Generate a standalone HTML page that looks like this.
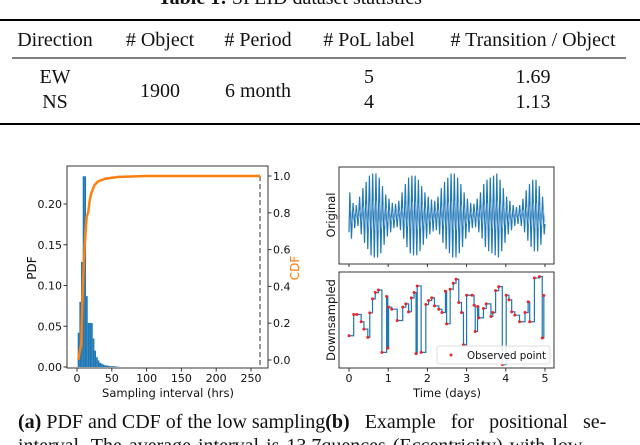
<!DOCTYPE html>
<html><head><meta charset="utf-8">
<style>
html,body{margin:0;padding:0;background:#fff;}
svg{display:block;}
.serif{font-family:"Liberation Serif",serif;fill:#111;}
.sans{font-family:"DejaVu Sans","Liberation Sans",sans-serif;fill:#111;}
</style></head>
<body>
<svg id="root" width="640" height="445" viewBox="0 0 640 445" xmlns="http://www.w3.org/2000/svg">
  <g>
    <text class="serif" x="290" y="4" font-size="20" text-anchor="middle"><tspan font-weight="bold">Table 1:</tspan> SPLID dataset statistics</text>
    <line x1="0" y1="20" x2="640" y2="20" stroke="#000" stroke-width="2"/>
    <g class="serif" font-size="20" text-anchor="middle">
      <text x="55" y="46">Direction</text>
      <text x="160" y="46"># Object</text>
      <text x="258" y="46"># Period</text>
      <text x="369" y="46"># PoL label</text>
      <text x="533" y="46"># Transition / Object</text>
    </g>
    <line x1="12" y1="58" x2="626" y2="58" stroke="#000" stroke-width="1"/>
    <g class="serif" font-size="20" text-anchor="middle">
      <text x="55" y="83">EW</text>
      <text x="55" y="108">NS</text>
      <text x="160" y="97">1900</text>
      <text x="258" y="97">6 month</text>
      <text x="369" y="83">5</text>
      <text x="369" y="108">4</text>
      <text x="533" y="83">1.69</text>
      <text x="533" y="108">1.13</text>
    </g>
    <line x1="0" y1="124" x2="640" y2="124" stroke="#000" stroke-width="2"/>
  </g>

  <g id="left"></g>
  <g id="right"></g>

  <g class="serif" font-size="20">
    <text x="18" y="428"><tspan font-weight="bold">(a)</tspan> PDF and CDF of the low sampling<tspan font-weight="bold">(b)</tspan><tspan word-spacing="10">  Example for positional se-</tspan></text>
    <text x="18" y="452" word-spacing="2">interval. The average interval is 13.7quences (Eccentricity) with low</text>
  </g>
</svg>
<script>
// ---- Left chart data ----
const binStarts = [1,3.4,5.8,8.2,10.6,13,15.4,17.8,20.2,22.6,25,27.4,29.8,32.2,34.6,37,39.4,41.8,44.2,46.6,49,51.4,53.8,56.2,58.6];
const binWidth = 2.4;
const pdfVals = [0.042,0.08,0.129,0.234,0.234,0.087,0.054,0.054,0.054,0.035,0.02,0.012,0.008,0.005,0.004,0.003,0.002,0.002,0.0015,0.001,0.001,0.001,0.0008,0.0005,0.0003];
const cdfX = [2,4,6,8,10,12,14,16,18,20,25,30,40,60,100,263];
const cdfY = [0.0,0.05,0.08,0.35,0.55,0.68,0.78,0.8,0.86,0.9,0.95,0.97,0.985,0.995,1.0,1.0];
const xTicksL = [0,50,100,150,200,250];
const pdfTicks = [0,0.05,0.10,0.15,0.20];
const pdfTickLabels = ["0.00","0.05","0.10","0.15","0.20"];
const cdfTicks = [0,0.2,0.4,0.6,0.8,1.0];
const cdfTickLabels = ["0.0","0.2","0.4","0.6","0.8","1.0"];
const maxInterval = [263];

// ---- Right chart data ----
const cycleAmps = [0.55,0.3,0.25,0.45,0.65,0.8,0.95,1.0,1.0,0.9,0.7,0.5,0.4,0.3,0.28,0.35,0.55,0.75,0.9,0.95,0.95,0.85,0.7,0.55,0.45,0.38,0.35,0.45,0.65,0.8,0.9,1.0,1.0,0.9,0.75,0.55,0.4,0.3,0.28,0.4,0.55,0.75,0.85,0.9,0.95,1.0,0.85,0.65,0.45,0.35,0.25,0.2,0.25,0.4,0.6,0.75,0.85,0.85,0.7,0.45];
const obsT = [0.00,0.12,0.20,0.31,0.38,0.48,0.53,0.60,0.67,0.75,0.84,0.96,0.99,1.01,1.09,1.23,1.37,1.45,1.52,1.59,1.66,1.71,1.74,1.84,1.96,2.03,2.11,2.18,2.29,2.37,2.46,2.49,2.58,2.66,2.73,2.80,2.87,2.92,3.00,3.14,3.19,3.22,3.28,3.31,3.43,3.50,3.62,3.67,3.74,3.82,3.91,4.01,4.08,4.15,4.23,4.35,4.49,4.57,4.61,4.73,4.86,4.93,4.97];
const obsV = [3.29,5.57,5.57,4.79,4.0,3.11,5.75,7.25,7.93,8.21,1.5,7.5,1.96,6.36,6.14,4.93,6.36,6.71,5.86,7.36,7.93,1.36,8.64,1.5,6.64,7.07,7.36,6.5,6.14,5.79,8.07,4.57,8.29,8.93,9.36,6.86,5.79,2.32,7.64,7.64,6.57,3.75,6.43,5.21,6.21,6.71,5.36,5.79,8.14,8.57,0.18,7.64,7.14,5.86,5.5,4.79,5.79,6.93,4.79,9.5,9.64,3.04,7.61];
const xTicksR = [0,1,2,3,4,5];

const NS = "http://www.w3.org/2000/svg";
function mk(parent, tag, attrs, text){
  const e = document.createElementNS(NS, tag);
  for (const k in attrs) e.setAttribute(k, attrs[k]);
  if (text !== undefined) e.textContent = text;
  parent.appendChild(e);
  return e;
}
const BLUE = "#1f77b4", ORANGE = "#ff7f0e";
const TF = 11, AF = 11.5;

// ===== Left chart =====
(function(){
  const g = document.getElementById('left');
  const L = 67, R = 268, T = 166, B = 368;
  const xS = v => 77 + v * (251 - 77) / 250;
  const yP = v => 367 - v * (163 / 0.2);
  const yC = v => 360 - v * (360 - 176);

  const bars = mk(g, 'g', {});
  
  
  binStarts.forEach((s, i) => {
    const x0 = xS(s), x1 = xS(s + binWidth), y = yP(pdfVals[i]);
    const r = mk(bars, 'rect', {x: x0, y: y, width: Math.max(0.5, x1 - x0), height: 367 - y, fill: BLUE});
    
    
  });

  const dl = mk(g, 'line', {x1: xS(maxInterval[0]), x2: xS(maxInterval[0]), y1: yC(1.0), y2: B, stroke: '#777', 'stroke-width': 1.5, 'stroke-dasharray': '5,3'});
  
  

  const pts = cdfX.map((x, i) => xS(x) + ',' + yC(cdfY[i])).join(' ');
  const cl = mk(g, 'polyline', {points: pts, fill: 'none', stroke: ORANGE, 'stroke-width': 2.5, 'stroke-linejoin': 'round'});
  
  

  const fr = mk(g, 'rect', {x: L, y: T, width: R - L, height: B - T, fill: 'none', stroke: '#333', 'stroke-width': 1});
  
  

  xTicksL.forEach(v => {
    mk(g, 'line', {x1: xS(v), x2: xS(v), y1: B, y2: B + 3.5, stroke: '#333'});
    const t = mk(g, 'text', {x: xS(v), y: 382, 'font-size': TF, 'text-anchor': 'middle', class: 'sans'}, String(v));
    
    
  });
  pdfTicks.forEach((v, i) => {
    mk(g, 'line', {x1: L - 3.5, x2: L, y1: yP(v), y2: yP(v), stroke: '#333'});
    const t = mk(g, 'text', {x: L - 5, y: yP(v) + 4, 'font-size': TF, 'text-anchor': 'end', class: 'sans'}, pdfTickLabels[i]);
    
    
  });
  cdfTicks.forEach((v, i) => {
    mk(g, 'line', {x1: R, x2: R + 3.5, y1: yC(v), y2: yC(v), stroke: '#333'});
    const t = mk(g, 'text', {x: R + 5, y: yC(v) + 4, 'font-size': TF, class: 'sans'}, cdfTickLabels[i]);
    
    
  });
  const xt = mk(g, 'text', {x: 168, y: 397, 'font-size': AF, 'text-anchor': 'middle', class: 'sans'}, 'Sampling interval (hrs)');
  
  
  const yt = mk(g, 'text', {x: 0, y: 0, 'font-size': 12, 'text-anchor': 'middle', class: 'sans', transform: 'translate(36,268) rotate(-90)'}, 'PDF');
  
  
  const yt2 = mk(g, 'text', {x: 0, y: 0, 'font-size': 12, 'text-anchor': 'middle', style: 'fill:' + ORANGE, class: 'sans', transform: 'translate(299,268) rotate(-90)'}, 'CDF');
  
  
})();

// ===== Right chart =====
(function(){
  const g = document.getElementById('right');
  const L = 339, R = 554;
  const tS = v => 349 + v * (545 - 349) / 5;
  const T1 = 167, B1 = 264, T2 = 272, B2 = 368;
  const yO = v => (T1 + B1) / 2 - v * 42;
  const vMin = -0.18, vMax = 10.14;
  const yD = v => B2 - (v - vMin) / (vMax - vMin) * (B2 - T2);

  const n = cycleAmps.length;
  let pts = [tS(0) + ',' + yO(-0.4)];
  cycleAmps.forEach((a, i) => {
    const t0 = i * 5 / n;
    pts.push(tS(t0 + 1.25 / n) + ',' + yO(a));
    pts.push(tS(t0 + 3.75 / n) + ',' + yO(-a));
  });
  pts.push(tS(5) + ',' + yO(-0.2));
  const ol = mk(g, 'polyline', {points: pts.join(' '), fill: 'none', stroke: BLUE, 'stroke-width': 1.2});
  
  
  let pts2 = [];
  cycleAmps.forEach((a, i) => {
    const t0 = i * 5 / n;
    pts2.push(tS(t0 + 2.5 / n) + ',' + yO(a * 0.35));
    pts2.push(tS(t0 + 5 / n) + ',' + yO(-a * 0.35));
  });
  const ol2 = mk(g, 'polyline', {points: pts2.join(' '), fill: 'none', stroke: '#7fb0d8', 'stroke-width': 0.8});
  
  

  let sp = [];
  obsT.forEach((t, i) => {
    if (i > 0) sp.push(tS(t) + ',' + yD(obsV[i - 1]));
    sp.push(tS(t) + ',' + yD(obsV[i]));
  });
  const dl = mk(g, 'polyline', {points: sp.join(' '), fill: 'none', stroke: BLUE, 'stroke-width': 1.2});
  
  
  obsT.forEach((t, i) => {
    const c = mk(g, 'circle', {cx: tS(t), cy: yD(obsV[i]), r: 1.5, fill: '#e8262a'});
    
    
  });

  const lg = mk(g, 'g', {});
  
  
  mk(lg, 'rect', {x: 437, y: 346, width: 113, height: 18, fill: '#fff', 'fill-opacity': 0.85, stroke: '#ddd', rx: 2});
  mk(lg, 'circle', {cx: 451, cy: 355, r: 1.5, fill: '#e8262a'});
  const lt = mk(lg, 'text', {x: 467, y: 359, 'font-size': 10.3, class: 'sans'}, 'Observed point');
  
  

  [[T1, B1, 'original-frame'], [T2, B2, 'downsampled-frame']].forEach(f => {
    const r = mk(g, 'rect', {x: L, y: f[0], width: R - L, height: f[1] - f[0], fill: 'none', stroke: '#333', 'stroke-width': 1});
    
    
  });
  xTicksR.forEach(v => {
    mk(g, 'line', {x1: tS(v), x2: tS(v), y1: B1, y2: B1 + 3, stroke: '#333'});
    mk(g, 'line', {x1: tS(v), x2: tS(v), y1: B2, y2: B2 + 3.5, stroke: '#333'});
    const t = mk(g, 'text', {x: tS(v), y: 382, 'font-size': TF, 'text-anchor': 'middle', class: 'sans'}, String(v));
    
    
  });
  const xt = mk(g, 'text', {x: 447, y: 397, 'font-size': AF, 'text-anchor': 'middle', class: 'sans'}, 'Time (days)');
  
  
  const a = mk(g, 'text', {x: 0, y: 0, 'font-size': AF, 'text-anchor': 'middle', class: 'sans', transform: 'translate(335,215) rotate(-90)'}, 'Original');
  
  
  const b = mk(g, 'text', {x: 0, y: 0, 'font-size': AF, 'text-anchor': 'middle', class: 'sans', transform: 'translate(335,320) rotate(-90)'}, 'Downsampled');
  
  
})();
</script>
</body></html>
